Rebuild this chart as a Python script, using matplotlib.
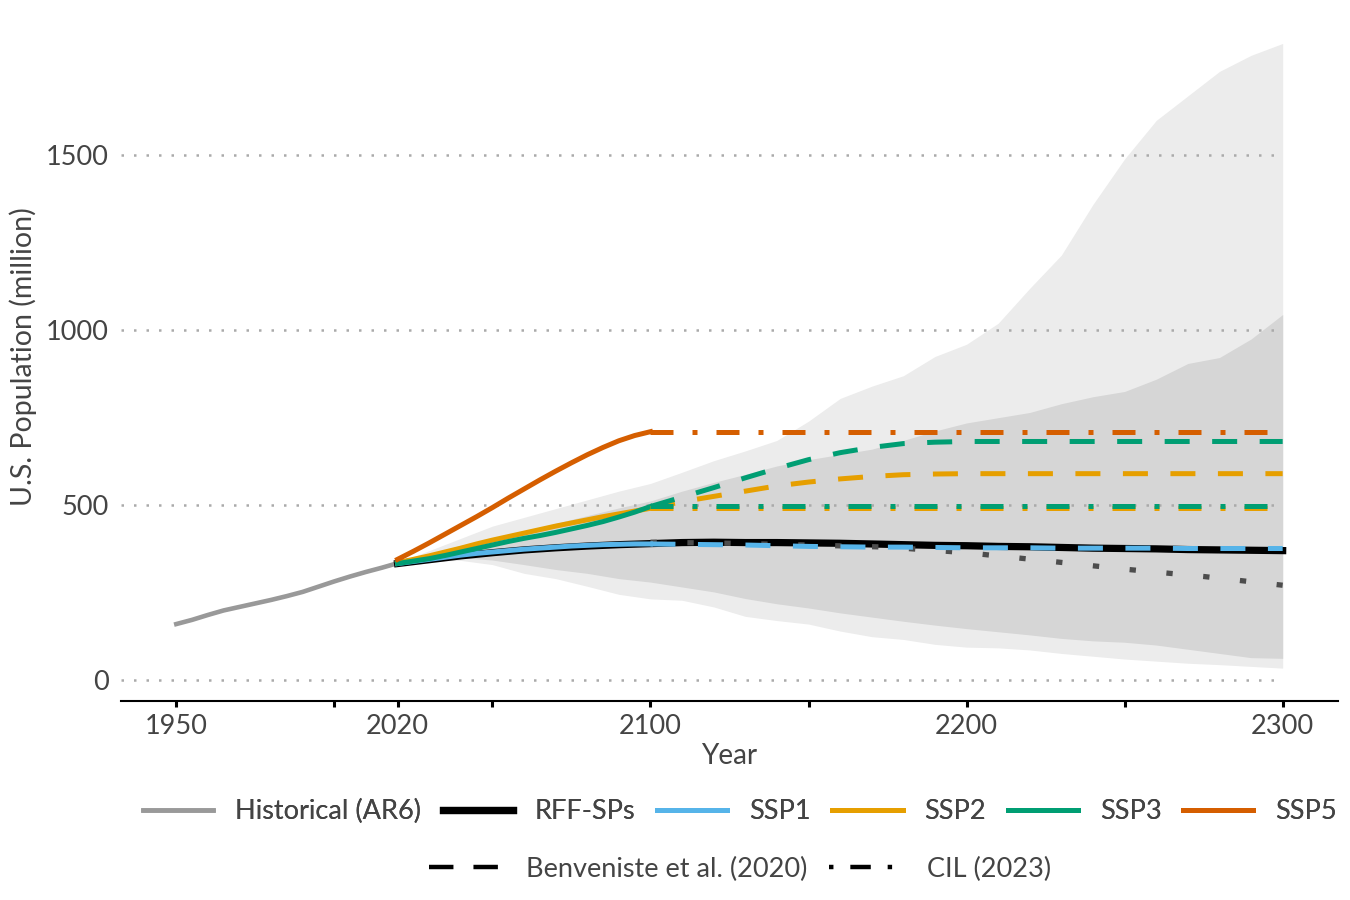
import matplotlib
matplotlib.use("Agg")
import matplotlib.pyplot as plt
from matplotlib.lines import Line2D

plt.rcParams["font.family"] = ["Lato", "DejaVu Sans"]

# Historical (AR6)
hist_years = [1950, 1955, 1960, 1965, 1970, 1975, 1980, 1985, 1990, 1995,
              2000, 2005, 2010, 2015, 2020]
hist_pop = [160, 172, 186, 199, 209, 219, 229, 240, 252, 267,
            282, 296, 309, 321, 334]

# SSPs 2020-2100
ssp_years = [2020, 2025, 2030, 2035, 2040, 2045, 2050, 2055, 2060,
             2065, 2070, 2075, 2080, 2085, 2090, 2095, 2100]
ssp1 = [333, 339, 345, 351, 357, 362, 366, 370, 374,
        377, 380, 383, 385, 387, 388, 389, 389]
ssp2 = [335, 345, 355, 366, 377, 389, 400, 410, 420,
        430, 440, 449, 458, 467, 475, 483, 491]
ssp3 = [333, 340, 347, 356, 366, 376, 386, 396, 405,
        413, 422, 432, 442, 453, 466, 480, 496]
ssp5 = [345, 368, 392, 417, 442, 467, 493, 520, 546,
        572, 597, 621, 644, 665, 684, 699, 710]

# Extensions 2100-2300
ext_years = [2100, 2110, 2120, 2130, 2140, 2150, 2160, 2170, 2180, 2190, 2200,
             2210, 2220, 2230, 2240, 2250, 2260, 2270, 2280, 2290, 2300]
benv_ssp1 = [389, 388, 387, 386, 384, 382, 381, 380, 380, 379, 378,
             378, 378, 377, 377, 377, 377, 376, 376, 376, 376]
benv_ssp2 = [491, 510, 525, 540, 555, 566, 575, 582, 587, 589, 590,
             590, 590, 590, 590, 590, 590, 590, 590, 590, 590]
benv_ssp3 = [496, 523, 550, 578, 605, 630, 650, 665, 676, 680, 682,
             682, 682, 682, 682, 682, 682, 682, 682, 682, 682]
cil_years = [2100, 2300]
cil_ssp2 = [491, 491]
cil_ssp3 = [497, 497]
cil_ssp5 = [710, 710]
other_years = [2100, 2125, 2150, 2175, 2200, 2225, 2250, 2275, 2300]
other_pop = [394, 391, 386, 380, 364, 341, 317, 296, 271]

# RFF-SPs median and bands
rff_years = [2020, 2030, 2040, 2050, 2060, 2070, 2080, 2090, 2100, 2110,
             2120, 2130, 2140, 2150, 2160, 2170, 2180, 2190, 2200, 2210,
             2220, 2230, 2240, 2250, 2260, 2270, 2280, 2290, 2300]
rff_med = [333, 344, 355, 364, 372, 378, 383, 387, 390, 393,
           394, 393, 393, 392, 391, 389, 387, 385, 384, 382,
           381, 379, 377, 376, 375, 373, 372, 371, 370]
light_lo = [333, 340, 342, 330, 305, 290, 268, 245, 232, 228,
            209, 182, 170, 160, 140, 124, 116, 102, 94, 92,
            86, 76, 68, 60, 54, 48, 44, 39, 34]
dark_lo = [333, 343, 350, 343, 330, 316, 305, 290, 280, 266,
           252, 233, 218, 206, 192, 180, 168, 157, 147, 138,
           129, 119, 112, 108, 100, 88, 76, 64, 62]
dark_hi = [335, 360, 385, 405, 425, 448, 470, 492, 512, 540,
           565, 588, 612, 630, 645, 660, 685, 712, 735, 750,
           765, 790, 810, 825, 860, 905, 922, 975, 1045]
light_hi = [335, 370, 405, 440, 465, 490, 515, 540, 562, 594,
            627, 655, 685, 740, 805, 840, 870, 925, 960, 1020,
            1120, 1215, 1360, 1490, 1600, 1670, 1740, 1786, 1820]

x_ticks = [1950, 2000, 2020, 2050, 2100, 2150, 2200, 2250, 2300]
x_labels = ["1950", "", "2020", "", "2100", "", "2200", "", "2300"]
y_ticks = [0, 500, 1000, 1500]

GRAY = "#999999"
BLUE = "#56B4E9"
ORANGE = "#E69F00"
GREEN = "#009E73"
RED = "#D55E00"
TXT = "#444444"

DASH = (5, 4.5)
DOTDASH = (4.6, 3.8, 1, 3.8)

fig = plt.figure(figsize=(13.5, 9), dpi=100)
ax = fig.add_axes([0.0896, 0.2211, 0.9015, 0.7656])
ax.set_xlim(1932.5, 2317.5)
ax.set_ylim(-60, 1910)

ax.fill_between(rff_years, light_lo, light_hi, color="#ECECEC", lw=0, zorder=1)
ax.fill_between(rff_years, dark_lo, dark_hi, color="#D6D6D6", lw=0, zorder=1.1)
ax.hlines(y_ticks, 1932.5, 2300, colors="#AAAAAA", lw=1.8,
          linestyles=(0, (1, 4)), zorder=1.5)

lw = 3.6
ax.plot(hist_years, hist_pop, color=GRAY, lw=3.3, zorder=3)
ax.plot(rff_years, rff_med, color="black", lw=5.2, zorder=3)
ax.plot(ssp_years, ssp1, color=BLUE, lw=lw, zorder=4)
ax.plot(ssp_years, ssp2, color=ORANGE, lw=lw, zorder=4)
ax.plot(ssp_years, ssp3, color=GREEN, lw=lw, zorder=4)
ax.plot(ssp_years, ssp5, color=RED, lw=lw, zorder=4)

ax.plot(ext_years, benv_ssp1, color=BLUE, lw=lw, dashes=DASH, zorder=4)
ax.plot(ext_years, benv_ssp2, color=ORANGE, lw=lw, dashes=DASH, zorder=4)
ax.plot(ext_years, benv_ssp3, color=GREEN, lw=lw, dashes=DASH, zorder=4)
ax.plot(cil_years, cil_ssp2, color=ORANGE, lw=lw, dashes=DOTDASH, zorder=4)
ax.plot(cil_years, cil_ssp3, color=GREEN, lw=lw, dashes=DOTDASH, zorder=4.1)
ax.plot(cil_years, cil_ssp5, color=RED, lw=lw, dashes=DOTDASH, zorder=4)
ax.plot(other_years, other_pop, color="#4D4D4D", lw=3.8,
        dashes=(1.2, 5.8), zorder=3.5)

for s in ["top", "right", "left"]:
    ax.spines[s].set_visible(False)
ax.spines["bottom"].set_linewidth(1.5)
ax.spines["bottom"].set_color("black")

ax.set_xticks(x_ticks)
ax.set_xticklabels(x_labels)
ax.set_yticks(y_ticks)
ax.set_yticklabels([str(v) for v in y_ticks])
ax.tick_params(axis="x", length=4, width=2.2, color="black", pad=5,
               labelsize=19.5, labelcolor=TXT)
ax.tick_params(axis="y", length=0, pad=9, labelsize=19.5, labelcolor=TXT)
ax.set_xlabel("Year", fontsize=20, color=TXT, labelpad=3)
ax.set_ylabel("U.S. Population (million)", fontsize=20.5, color=TXT,
              labelpad=6)

h1 = [Line2D([], [], color=GRAY, lw=3.3),
      Line2D([], [], color="black", lw=5.2),
      Line2D([], [], color=BLUE, lw=lw),
      Line2D([], [], color=ORANGE, lw=lw),
      Line2D([], [], color=GREEN, lw=lw),
      Line2D([], [], color=RED, lw=lw)]
l1 = ["Historical (AR6)", "RFF-SPs", "SSP1", "SSP2", "SSP3", "SSP5"]
leg1 = fig.legend(h1, l1, loc="center", bbox_to_anchor=(0.548, 0.098),
                  ncol=6, frameon=False, fontsize=19.5, handlelength=2.6,
                  handletextpad=0.8, columnspacing=0.8, labelcolor=TXT)

h2 = [Line2D([], [], color="black", lw=3.2, linestyle=(0, (5.5, 4.5))),
      Line2D([], [], color="black", lw=3.2,
             linestyle=(8.4, (4.6, 3.8, 1, 3.8)))]
l2 = ["Benveniste et al. (2020)", "CIL (2023)"]
fig.legend(h2, l2, loc="center", bbox_to_anchor=(0.548, 0.034),
           ncol=2, frameon=False, fontsize=19.5, handlelength=2.8,
           handletextpad=0.8, columnspacing=0.8, labelcolor=TXT)
fig.add_artist(leg1)

fig.savefig("out.png", dpi=100, facecolor="white")
